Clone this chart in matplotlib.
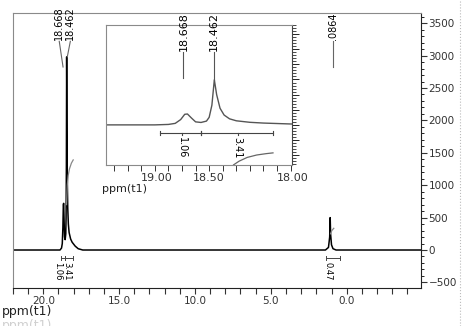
import matplotlib
matplotlib.use("Agg")
import matplotlib.pyplot as plt
from matplotlib.lines import Line2D
from matplotlib.ticker import MultipleLocator, FixedLocator, FixedFormatter

# spectrum: chemical shift (ppm) and intensity
ppm = [22.0, 19.3, 18.90, 18.80, 18.75, 18.71, 18.68, 18.66, 18.63, 18.60,
       18.56, 18.52, 18.50, 18.48, 18.462, 18.445, 18.42, 18.39, 18.35, 18.30,
       18.20, 18.10, 18.00, 17.90, 17.70, 17.40,
       1.40, 1.20, 1.12, 1.0864, 1.06, 1.00, 0.90, 0.70, -4.9]
intensity = [0, 0, 0, 30, 100, 350, 700, 720, 450, 200,
             160, 250, 500, 1300, 2980, 2000, 1100, 650, 400, 270,
             170, 120, 90, 60, 20, 0,
             0, 40, 200, 500, 250, 80, 20, 0, 0]

# integral traces
int1_ppm = [18.47, 18.42, 18.36, 18.28, 18.15, 18.03]
int1_val = [700, 1000, 1150, 1250, 1340, 1390]
int2_ppm = [1.06, 0.98, 0.85]
int2_val = [250, 300, 335]
inset_int_ppm = [18.32, 18.28, 18.22, 18.15, 18.08, 18.03]
inset_int_val = [-2640, -2400, -2150, -1990, -1900, -1850]

# integral regions (start, end, label position, label)
regions_main = [(18.86, 18.56, 19.03, "1.06"), (18.56, 18.03, 18.44, "3.41"),
                (1.34, 0.46, 1.25, "0.47")]
regions_inset = [(18.86, 18.56, 18.70, "1.06"), (18.56, 18.03, 18.29, "3.41")]

peak_labels_main = [("18.668", 18.95, 18.70), ("18.462", 18.22, 18.42), (".0864", 0.92, 0.92)]
peak_labels_inset = [("18.668", 18.69, 18.69), ("18.462", 18.466, 18.466)]

inset_ticks = [19.0, 18.5, 18.0]
inset_ticklabels = ["19.00", "18.50", "18.00"]

fig = plt.figure(figsize=(4.64, 3.26), dpi=100)
ax = fig.add_axes([0.028, 0.1166, 0.8793, 0.8435])

ax.plot(ppm, intensity, color="black", lw=1.1)
ax.plot(int1_ppm, int1_val, color="#888888", lw=0.9)
ax.plot(int2_ppm, int2_val, color="#888888", lw=0.9)
ax.set_xlim(22.0, -4.9)
ax.set_ylim(-586, 3657)

for s in ["top", "left"]:
    ax.spines[s].set_color("#8a8a8a")
for s in ["bottom", "right"]:
    ax.spines[s].set_color("#222222")

ax.yaxis.tick_right()
ax.yaxis.set_major_locator(MultipleLocator(500))
ax.yaxis.set_minor_locator(MultipleLocator(100))
ax.xaxis.set_major_locator(MultipleLocator(5))
ax.xaxis.set_minor_locator(MultipleLocator(1))
ax.xaxis.set_major_formatter(matplotlib.ticker.FormatStrFormatter("%.1f"))
ax.tick_params(axis="x", which="both", direction="out", length=4, width=0.8,
               labelsize=7.5, pad=2, colors="#333333")
ax.tick_params(axis="y", which="major", direction="out", length=4, width=0.8,
               labelsize=7.5, pad=1.5, colors="#333333")
ax.tick_params(axis="y", which="minor", direction="out", length=2, width=0.6)

# peak labels
for lab, tx, lx in peak_labels_main:
    ax.text(tx, 3240, lab, rotation=90, ha="center", va="bottom", fontsize=7)
    top = 2980 if lab == "18.462" else 2824
    ax.plot([tx, lx], [3220, top], color="#666666", lw=0.8)

# integral rulers
for a, b, lp, lab in regions_main:
    ax.plot([a, b], [-125, -125], color="#444444", lw=0.7)
    ax.plot([a, a], [-90, -160], color="#444444", lw=0.7)
    ax.plot([b, b], [-90, -160], color="#444444", lw=0.7)
    ax.text(lp, -185, lab, rotation=-90, ha="center", va="top", fontsize=6)

# inset
axi = fig.add_axes([0.2284, 0.4939, 0.4009, 0.4294])
axi.plot(ppm, intensity, color="#555555", lw=1.0)
axi.plot(inset_int_ppm, inset_int_val, color="#666666", lw=0.9)
axi.set_xlim(19.26, 17.89)
axi.set_ylim(-2650, 6600)
for s in axi.spines.values():
    s.set_color("#8a8a8a")
axi.spines["right"].set_color("#444444")
axi.yaxis.tick_right()
axi.yaxis.set_major_locator(MultipleLocator(1000))
axi.yaxis.set_minor_locator(MultipleLocator(200))
axi.tick_params(axis="y", which="major", direction="out", length=5, width=0.6, labelright=False)
axi.tick_params(axis="y", which="minor", direction="out", length=3, width=0.5)
axi.xaxis.set_major_locator(FixedLocator(inset_ticks))
axi.xaxis.set_major_formatter(FixedFormatter(inset_ticklabels))
axi.xaxis.set_minor_locator(MultipleLocator(0.1))
axi.tick_params(axis="x", which="both", direction="out", length=4, width=0.7,
                labelsize=8, pad=1.5, colors="#333333")
ticklabs = axi.get_xticklabels()
ticklabs[0].set_ha("left")
ticklabs[2].set_ha("left")

for lab, tx, lx in peak_labels_inset:
    axi.text(tx, 4900, lab, rotation=90, ha="center", va="bottom", fontsize=8)
    top = 2970 if lab == "18.462" else 3100
    axi.plot([lx, lx], [4800, top], color="#555555", lw=0.8)

for a, b, lp, lab in regions_inset:
    axi.plot([a, b], [-528, -528], color="#444444", lw=0.8)
    axi.plot([a, a], [-400, -660], color="#444444", lw=0.8)
    axi.plot([b, b], [-400, -660], color="#444444", lw=0.8)
    axi.plot([lp, lp], [-528, -700], color="#444444", lw=0.8)
    axi.text(lp, -780, lab, rotation=-90, ha="center", va="top", fontsize=7)

fig.text(0.22, 0.42, "ppm(t1)", fontsize=8, ha="left", va="center", color="#222222")
fig.text(0.004, 0.045, "ppm(t1)", fontsize=9, ha="left", va="center", color="#222222")
fig.text(0.004, 0.003, "ppm(t1)", fontsize=9, ha="left", va="center", color="#d0d0d0")
fig.add_artist(Line2D([0.992, 0.992], [0, 1], ls=":", color="#bbbbbb", lw=0.8))

fig.savefig("out.png", dpi=100)
